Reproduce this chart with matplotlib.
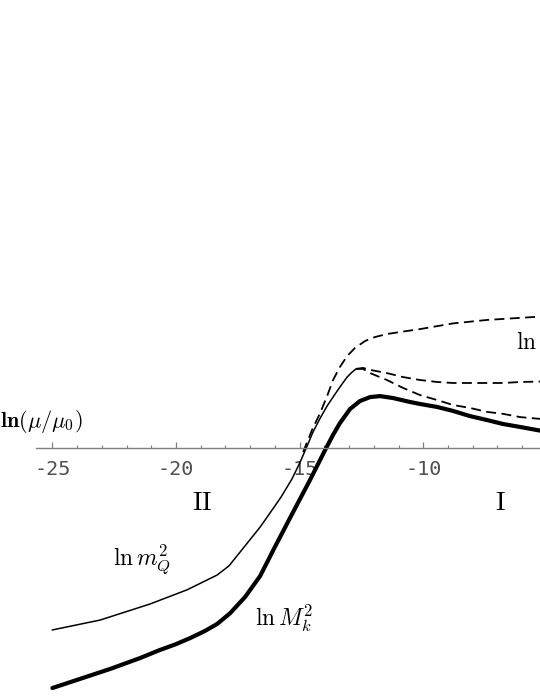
import matplotlib
matplotlib.use("Agg")
import matplotlib.pyplot as plt
from matplotlib.ticker import FixedLocator

plt.rcParams['mathtext.fontset'] = 'cm'

# ---- data (x = ln(mu/mu0), y in arbitrary log units) ----
thick_x = [-25.0, -23.88, -22.67, -21.46, -20.65, -20.04, -19.43, -18.83, -18.34,
           -17.82, -17.21, -16.60, -16.00, -15.39, -14.58, -13.97, -13.65, -13.37,
           -12.96, -12.56, -12.15, -11.75, -11.22, -10.53, -10.13, -9.44, -8.80,
           -8.11, -7.42, -6.77, -6.08, -5.2]
thick_y = [-9.71, -9.34, -8.94, -8.50, -8.17, -7.95, -7.69, -7.40, -7.12,
           -6.69, -6.03, -5.18, -4.00, -2.83, -1.29, -0.08, 0.53, 1.01,
           1.58, 1.90, 2.06, 2.10, 2.02, 1.86, 1.78, 1.66, 1.50,
           1.29, 1.13, 0.97, 0.85, 0.69]

thin_x = [-25.0, -23.07, -21.05, -19.56, -18.34, -17.86, -17.41, -16.60, -16.20,
          -15.75, -15.31, -14.98, -14.70, -14.46, -14.17, -13.89, -13.65, -13.37,
          -13.08, -12.88, -12.72]
thin_y = [-7.36, -6.96, -6.31, -5.74, -5.14, -4.77, -4.21, -3.20, -2.63,
          -1.98, -1.25, -0.57, 0.08, 0.65, 1.21, 1.70, 2.06, 2.47,
          2.87, 3.07, 3.20]

mid_x = [-12.72, -12.44, -12.15, -11.47, -10.82, -10.13, -9.44, -8.80, -8.11,
         -7.42, -6.77, -6.08, -5.2]
mid_y = [3.20, 3.24, 3.16, 3.03, 2.87, 2.75, 2.67, 2.63, 2.63,
         2.63, 2.63, 2.67, 2.69]

low_x = [-12.72, -12.44, -12.15, -11.47, -10.82, -10.13, -9.44, -8.80, -8.11,
         -7.42, -6.77, -6.08, -5.2]
low_y = [3.20, 3.20, 3.03, 2.75, 2.43, 2.14, 1.94, 1.74, 1.62,
         1.46, 1.38, 1.25, 1.17]

up_x = [-14.86, -14.50, -14.17, -13.89, -13.65, -13.37, -13.08, -12.76, -12.35,
        -11.95, -11.47, -10.82, -10.13, -8.80, -7.42, -5.2]
up_y = [-0.16, 0.73, 1.42, 2.10, 2.75, 3.28, 3.72, 4.05, 4.33,
        4.49, 4.61, 4.71, 4.81, 5.04, 5.18, 5.32]

major_ticks = [-25, -20, -15, -10, -5]
minor_ticks = [-24, -23, -22, -21, -19, -18, -17, -16, -14, -13, -12, -11,
               -9, -8, -7, -6]
tick_labels = ["-25", "-20", "-15", "-10", "-5"]

# ---- figure ----
fig = plt.figure(figsize=(5.4, 6.99), dpi=100)
ax = fig.add_axes([0, 0, 1, 1])
ax.set_xlim(-27.12, -5.28)
ax.set_ylim(-10.154, 18.123)

ax.plot(thick_x, thick_y, color='black', lw=3.0, solid_capstyle='round',
        solid_joinstyle='round')
ax.plot(thin_x, thin_y, color='black', lw=1.1, solid_joinstyle='round')
dash = (5.5, 3.0)
ax.plot(mid_x, mid_y, color='black', lw=1.3, dashes=dash)
ax.plot(low_x, low_y, color='black', lw=1.3, dashes=dash)
ax.plot(up_x, up_y, color='black', lw=1.3, dashes=dash)

# axis
for s in ['top', 'right', 'left']:
    ax.spines[s].set_visible(False)
ax.spines['bottom'].set_position(('data', 0))
ax.spines['bottom'].set_bounds(-25.66, -5.28)
ax.spines['bottom'].set_color('#808080')
ax.spines['bottom'].set_linewidth(1.0)
ax.yaxis.set_visible(False)
ax.xaxis.set_major_locator(FixedLocator(major_ticks))
ax.set_xticklabels(tick_labels)
ax.xaxis.set_minor_locator(FixedLocator(minor_ticks))
ax.tick_params(axis='x', which='major', direction='in', length=4.5, width=0.9,
               color='#808080', pad=8.5, labelsize=14.5, labelcolor='#505050')
ax.tick_params(axis='x', which='minor', direction='in', length=2.5, width=0.8,
               color='#808080')
for lab in ax.get_xticklabels():
    lab.set_family('DejaVu Sans Mono')

# labels
ax.text(-27.12, 1.09, r'$\mathbf{ln}(\mu/\mu_0)$', fontsize=16, ha='left', va='center')
ax.text(-18.95, -2.22, r'$\mathrm{II}$', fontsize=19, ha='center', va='center')
ax.text(-6.89, -2.22, r'$\mathrm{I}$', fontsize=19, ha='center', va='center')
ax.text(-21.38, -4.53, r'$\ln m_Q^2$', fontsize=17, ha='center', va='center')
ax.text(-15.63, -6.88, r'$\ln M_k^2$', fontsize=17, ha='center', va='center')
ax.text(-6.25, 4.29, r'$\ln$', fontsize=17, ha='left', va='center')

fig.savefig('out.png', dpi=100)
